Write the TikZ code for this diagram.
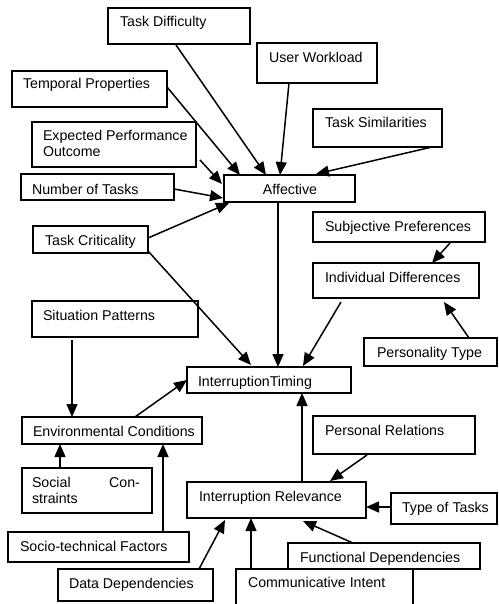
\documentclass[tikz,border=0pt]{standalone}
\usepackage{fontspec}
\setmainfont{Liberation Sans}
\usetikzlibrary{arrows.meta,calc}
\tikzset{
  boxst/.style={draw, line width=1.5pt, fill=white, inner sep=0pt, outer sep=0pt, anchor=north west},
  lbl/.style={inner sep=0pt, outer sep=0pt, anchor=base west, font=\fontsize{14.2}{16}\selectfont},
  arr/.style={line width=1.5pt, -{Triangle[length=13pt,width=11pt]}}
}
\begin{document}
\begin{tikzpicture}[x=1pt,y=-1pt]
\clip (0,0) rectangle (498,604);
\fill[white] (0,0) rectangle (498,604);
% boxes
\node[boxst, minimum width=142pt, minimum height=36pt] (td) at (108,8) {};
\node[boxst, minimum width=120pt, minimum height=40pt] (uw) at (257,43) {};
\node[boxst, minimum width=155pt, minimum height=36pt] (tp) at (12,71) {};
\node[boxst, minimum width=129pt, minimum height=38pt] (ts) at (313,109) {};
\node[boxst, minimum width=164pt, minimum height=45pt] (ep) at (32,122) {};
\node[boxst, minimum width=153pt, minimum height=26pt] (nt) at (21,174) {};
\node[boxst, minimum width=131pt, minimum height=27pt] (af) at (224,175) {};
\node[boxst, minimum width=115pt, minimum height=27pt] (tc) at (33,226) {};
\node[boxst, minimum width=172pt, minimum height=30pt] (sp) at (313,212) {};
\node[boxst, minimum width=166pt, minimum height=35pt] (id) at (313,263) {};
\node[boxst, minimum width=166pt, minimum height=36pt] (sit) at (32,301) {};
\node[boxst, minimum width=133pt, minimum height=28pt] (pt) at (364,338) {};
\node[boxst, minimum width=164pt, minimum height=26pt] (it) at (187,367) {};
\node[boxst, minimum width=180pt, minimum height=27pt] (ec) at (22,417) {};
\node[boxst, minimum width=162pt, minimum height=38pt] (pr) at (313,416) {};
\node[boxst, minimum width=130pt, minimum height=45pt] (sc) at (22,468) {};
\node[boxst, minimum width=179pt, minimum height=36pt] (ir) at (187,482) {};
\node[boxst, minimum width=106pt, minimum height=31pt] (tt) at (391,493) {};
\node[boxst, minimum width=181pt, minimum height=30pt] (st) at (8,532) {};
\node[boxst, minimum width=192pt, minimum height=26pt] (fd) at (288,543) {};
\node[boxst, minimum width=155pt, minimum height=32pt] (dd) at (58,569) {};
\node[boxst, minimum width=177pt, minimum height=50pt] (ci) at (236,569) {};
% texts
\node[lbl] (tdt) at ($(td.north west)+(12,19)$) {Task Difficulty};
\node[lbl] (uwt) at ($(uw.north west)+(12,20)$) {User Workload};
\node[lbl] (tpt) at ($(tp.north west)+(11,18)$) {Temporal Properties};
\node[lbl] (tst) at ($(ts.north west)+(12,19)$) {Task Similarities};
\node[lbl] (ept) at ($(ep.north west)+(11,19)$) {\parbox[t]{200pt}{Expected Performance\\Outcome}};
\node[lbl] (ntt) at ($(nt.north west)+(11,20)$) {Number of Tasks};
\node[lbl, anchor=base] (aft) at ($(af.north)+(0.5,19)$) {Affective};
\node[lbl] (tct) at ($(tc.north west)+(12,19)$) {Task Criticality};
\node[lbl] (spt) at ($(sp.north west)+(12,19)$) {Subjective Preferences};
\node[lbl] (idt) at ($(id.north west)+(12,19)$) {Individual Differences};
\node[lbl] (sitt) at ($(sit.north west)+(11,19)$) {Situation Patterns};
\node[lbl] (ptt) at ($(pt.north west)+(13,19)$) {Personality Type};
\node[lbl] (itt) at ($(it.north west)+(11,19)$) {InterruptionTiming};
\node[lbl] (ect) at ($(ec.north west)+(11,19)$) {Environmental Conditions};
\node[lbl] (prt) at ($(pr.north west)+(12,19)$) {Personal Relations};
\node[lbl] (sct) at ($(sc.north west)+(10,19)$) {\parbox[t]{108pt}{Social\hfill Con-\\straints}};
\node[lbl] (irt) at ($(ir.north west)+(12,19)$) {Interruption Relevance};
\node[lbl] (ttt) at ($(tt.north west)+(11,19)$) {Type of Tasks};
\node[lbl] (stt) at ($(st.north west)+(12,19)$) {Socio-technical Factors};
\node[lbl] (fdt) at ($(fd.north west)+(12,19)$) {Functional Dependencies};
\node[lbl] (ddt) at ($(dd.north west)+(11,19)$) {Data Dependencies};
\node[lbl] (cit) at ($(ci.north west)+(12,18)$) {Communicative Intent};
% connectors
\draw[arr] ($(td.south west)+(68,1)$) -- ($(af.north west)+(42,0)$);
\draw[arr] ($(uw.south west)+(32,0)$) -- ($(af.north west)+(56,0)$);
\draw[arr] ($(ts.south west)+(119,0)$) -- ($(af.north west)+(92,-1)$);
\draw[arr] ($(tp.north east)+(0,16)$) -- ($(af.north west)+(16,0)$);
\draw[arr] ($(ep.south east)+(4,-7)$) -- ($(af.north west)+(-2,9)$);
\draw[arr] ($(nt.north east)+(0,15)$) -- ($(af.north west)+(-1,23)$);
\draw[arr] ($(tc.north east)+(0,12)$) -- ($(af.south west)+(5,1)$);
\draw[arr] ($(tc.south east)+(0,-2)$) -- ($(it.north west)+(64,-2)$);
\draw[arr] ($(af.south west)+(54,0)$) -- ($(it.north west)+(91,0)$);
\draw[arr] ($(id.south west)+(28,4)$) -- ($(it.north west)+(116,-1)$);
\draw[arr] ($(sp.south west)+(137,1)$) -- ($(id.north west)+(119,0)$);
\draw[arr] ($(pt.north west)+(105,0)$) -- ($(id.south west)+(131,4)$);
\draw[arr] ($(sit.south west)+(40,3)$) -- ($(ec.north west)+(50,0)$);
\draw[arr] ($(ec.north west)+(113,0)$) -- ($(it.north west)+(0,13)$);
\draw[arr] ($(sc.north west)+(38,0)$) -- ($(ec.south west)+(38,0)$);
\draw[arr] ($(st.north west)+(155,0)$) -- ($(ec.south west)+(141,0)$);
\draw[arr] ($(dd.north west)+(141,0)$) -- ($(ir.south west)+(38,2)$);
\draw[arr] ($(ci.north west)+(15,0)$) -- ($(ir.south west)+(64,0)$);
\draw[arr] ($(fd.north west)+(65,0)$) -- ($(ir.south west)+(116,3)$);
\draw[arr] ($(tt.north west)+(0,14)$) -- ($(ir.north east)+(0,25)$);
\draw[arr] ($(pr.south west)+(54,1)$) -- ($(ir.north west)+(143,-1)$);
\draw[arr] ($(ir.north west)+(115,0)$) -- ($(it.south west)+(115,0)$);
\end{tikzpicture}
\end{document}
